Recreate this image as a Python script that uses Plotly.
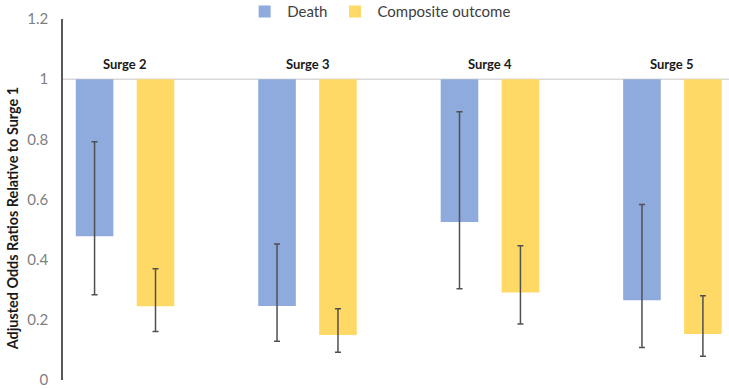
import plotly.graph_objects as go

categories = ["Surge 2", "Surge 3", "Surge 4", "Surge 5"]
death = [0.478, 0.246, 0.525, 0.265]
death_lo = [0.283, 0.129, 0.303, 0.108]
death_hi = [0.792, 0.452, 0.892, 0.583]
composite = [0.245, 0.150, 0.291, 0.153]
comp_lo = [0.161, 0.092, 0.186, 0.079]
comp_hi = [0.370, 0.237, 0.446, 0.280]
yticks = [0, 0.2, 0.4, 0.6, 0.8, 1, 1.2]
y_title = "Adjusted Odds Ratios Relative to Surge 1"

REF = 1.0
BLUE = "#8FAADC"
YELLOW = "#FFD966"
ERR = "#505050"
FONT = "Lato"
W = 0.206
OFF = 0.167

idx = list(range(len(categories)))
xd = [i - OFF for i in idx]
xc = [i + OFF for i in idx]

fig = go.Figure()
fig.add_trace(go.Bar(name="Death", x=xd, y=[v - REF for v in death], base=REF,
                     width=W, marker=dict(color=BLUE, line=dict(width=0))))
fig.add_trace(go.Bar(name="Composite outcome", x=xc, y=[v - REF for v in composite], base=REF,
                     width=W, marker=dict(color=YELLOW, line=dict(width=0))))

for xs, vals, lo, hi in [(xd, death, death_lo, death_hi), (xc, composite, comp_lo, comp_hi)]:
    fig.add_trace(go.Scatter(
        x=xs, y=vals, mode="markers", marker=dict(size=1, color="rgba(0,0,0,0)"),
        showlegend=False, hoverinfo="skip",
        error_y=dict(type="data", symmetric=False,
                     array=[h - v for h, v in zip(hi, vals)],
                     arrayminus=[v - l for v, l in zip(vals, lo)],
                     color=ERR, thickness=1.5, width=3)))

for i, c in zip(idx, categories):
    fig.add_annotation(x=i, y=REF, text="<b>%s</b>" % c, showarrow=False,
                       yanchor="bottom", yshift=5, font=dict(family=FONT, size=13, color="#1A1A1A"))

# y-axis title (placed like the original, slightly below the plot-area centre)
fig.add_annotation(xref="paper", yref="paper", x=0, y=0.445, xshift=-51,
                   xanchor="center", yanchor="middle", textangle=-90, showarrow=False,
                   text="<b>%s</b>" % y_title,
                   font=dict(family=FONT, size=14.4, color="#1A1A1A"))

fig.add_shape(type="line", xref="paper", x0=0, x1=1, yref="y", y0=REF, y1=REF,
              line=dict(color="#D9D9D9", width=1.5), layer="below")

fig.update_layout(
    width=729, height=389,
    margin=dict(l=63, r=0, t=19, b=9, autoexpand=False),
    paper_bgcolor="white", plot_bgcolor="white",
    barmode="overlay",
    font=dict(family=FONT, color="#595959"),
    showlegend=True,
    legend=dict(orientation="h", yref="paper", y=1.02, yanchor="middle",
                xref="paper", x=0.269, xanchor="left",
                font=dict(family=FONT, size=15, color="#404040"),
                itemwidth=35, bgcolor="rgba(0,0,0,0)"),
    xaxis=dict(range=[-0.34, 3.31], showticklabels=False, showgrid=False,
               zeroline=False, showline=False, ticks=""),
    yaxis=dict(range=[0, 1.2], tickvals=yticks, showgrid=False, zeroline=False,
               showline=True, linecolor="#595959", linewidth=1.5,
               ticks="", ticklabelstandoff=10, ticklabeloverflow="allow",
               tickfont=dict(family=FONT, size=15, color="#7F7F7F")),
)

fig.write_html("out.html", config={"displayModeBar": False},
               post_script="document.body.style.margin='0';")
